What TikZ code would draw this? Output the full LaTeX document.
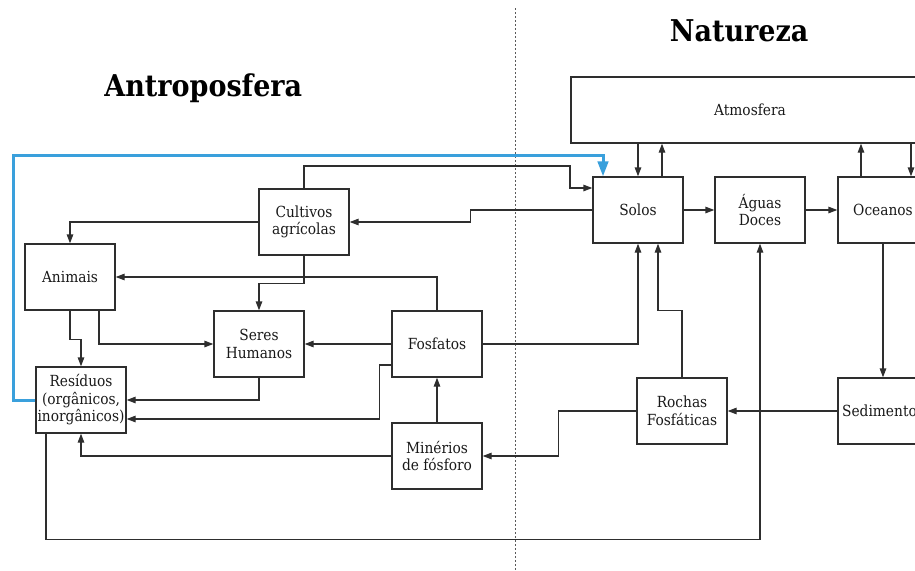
\documentclass[tikz,border=0pt]{standalone}
\usepackage{fontspec}
\usetikzlibrary{arrows.meta}
\newfontfamily\bodyfont{DejaVu Serif Condensed}
\newfontfamily\titlefont{DejaVu Serif Condensed Bold}
\definecolor{lineC}{HTML}{2E2E2E}
\definecolor{blueC}{HTML}{3AA0DC}
\tikzset{
  box/.style={draw=lineC, line width=1.3pt, minimum width=90pt, minimum height=66pt,
    inner sep=0pt, align=center, text=black!90, font=\bodyfont\fontsize{15.3}{17.5}\selectfont},
  arr/.style={draw=lineC, line width=1.3pt, -{Triangle[length=9pt,width=6.5pt]}},
  bluearr/.style={draw=blueC, line width=3pt, -{Triangle[length=15pt,width=10.5pt]}},
  titletext/.style={anchor=base, font=\titlefont\fontsize{30}{34}\selectfont}
}
\begin{document}
\begin{tikzpicture}[x=1pt,y=-1pt]
\useasboundingbox (0,0) rectangle (915,570);
% divider
\draw[gray!70!black, line width=0.9pt, dash pattern=on 2pt off 2pt] (515,8) -- (515,570);
% titles
\node[titletext] (tant) at (203.3,96.7) {Antroposfera};
\node[titletext] (tnat) at (739.2,41) {Natureza};
% nodes
\node[box, minimum width=358pt] (atm) at (750,110) {Atmosfera};
\node[box] (solos) at (638,210) {Solos};
\node[box] (aguas) at (760,210) {Águas\\Doces};
\node[box] (oceanos) at (883,210) {Oceanos};
\node[box] (cult) at (304,222) {Cultivos\\agrícolas};
\node[box] (animais) at (70,277) {Animais};
\node[box] (seres) at (259,344) {Seres\\Humanos};
\node[box] (fosfatos) at (437,344) {Fosfatos};
\node[box] (residuos) at (81,400) {Resíduos\\(orgânicos,\\inorgânicos)};
\node[box] (minerios) at (437,456) {Minérios\\de fósforo};
\node[box] (rochas) at (682,411) {Rochas\\Fosfáticas};
\node[box] (sed) at (883,411) {Sedimentos};
% helper coordinates
\path ([xshift=24pt]solos.north) coordinate (s1);
\path ([xshift=-22pt]oceanos.north) coordinate (o1);
\path ([xshift=28pt]oceanos.north) coordinate (o2);
% atmosphere exchanges
\draw[arr] (atm.south -| solos.north) -- (solos.north);
\draw[arr] (s1) -- (atm.south -| s1);
\draw[arr] (o1) -- (atm.south -| o1);
\draw[arr] (atm.south -| o2) -- (o2);
% natural flows
\draw[arr] (solos.east) -- (aguas.west);
\draw[arr] (aguas.east) -- (oceanos.west);
\draw[arr] (oceanos.south) -- (sed.north);
\draw[arr] (sed.west) -- (rochas.east);
\draw[arr] (rochas.west) -- ++(-78,0) |- (minerios.east);
\draw[arr] (rochas.north) -- ++(0,-67) -| ([xshift=20pt]solos.south);
\draw[arr] (fosfatos.east) -| (solos.south);
\draw[arr] ([xshift=-35pt]residuos.south) -- ++(0,106) -| (aguas.south);
\draw[arr] (solos.west) -- ++(-122,0) |- (cult.east);
\draw[arr] (cult.north) |- (570,166) |- ([yshift=22pt]solos.west);
% anthroposphere flows
\draw[arr] (cult.west) -| (animais.north);
\draw[arr] (cult.south) -- ++(0,28) -| (seres.north);
\draw[arr] (fosfatos.north) |- (animais.east);
\draw[arr] ([xshift=29pt]animais.south) |- (seres.west);
\draw[arr] (animais.south) -- ++(0,29) -| (residuos.north);
\draw[arr] (fosfatos.west) -- (seres.east);
\draw[arr] ([yshift=-21pt]fosfatos.west) -- ++(-12,0) |- ([yshift=-19pt]residuos.east);
\draw[arr] (seres.south) |- (residuos.east);
\draw[arr] (minerios.west) -| (residuos.south);
\draw[arr] (minerios.north) -- (fosfatos.south);
% blue recycling arrow
\draw[bluearr] (residuos.west) -| (13,155) -| ([xshift=-35pt]solos.north);
\end{tikzpicture}
\end{document}
